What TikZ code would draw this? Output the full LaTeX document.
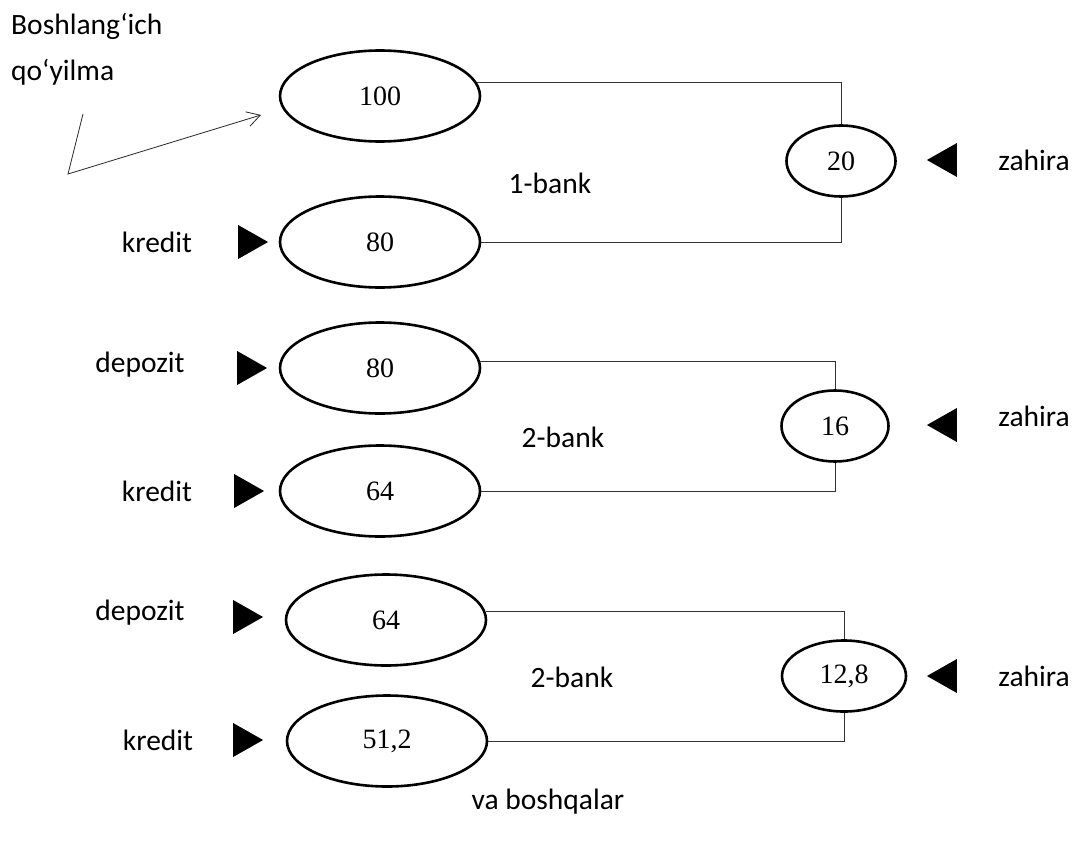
\documentclass[tikz,border=0pt]{standalone}
\usepackage{fontspec}
\setmainfont{Carlito}
\newfontfamily\numfont{Liberation Serif}
\usetikzlibrary{shapes.geometric, arrows.meta, positioning}

\begin{document}
\begin{tikzpicture}[x=1pt, y=-1pt,
    bank/.style={draw, ellipse, line width=2.6pt, minimum width=200pt, minimum height=91pt, inner sep=0pt, font=\numfont\fontsize{28}{30}\selectfont},
    rez/.style={draw, ellipse, line width=2.6pt, minimum height=71pt, inner sep=0pt, font=\numfont\fontsize{28}{30}\selectfont},
    pin/.style={isosceles triangle, isosceles triangle stretches, fill=black, inner sep=0pt, minimum width=34pt, minimum height=30pt},
    pinl/.style={pin, shape border rotate=180},
    lbl/.style={font=\fontsize{29.5}{34}\selectfont},
    link/.style={line width=0.9pt, black!80}]
  \useasboundingbox (0,0) rectangle (1073,843);

  % 1-bank
  \node (a1) [bank] at (380,96) {100};
  \node (b1) [bank] at (380,242) {80};
  \node (r1) [rez, minimum width=109pt] at (841,161) {20};
  \node (t1) [pin] at (248,242) {};
  \node (z1) [pinl] at (947,160) {};
  \node (k1) [lbl] at (157,242) {kredit};
  \node (h1) [lbl] at (1034,160) {zahira};
  \node (n1) [lbl] at (550,183) {1-bank};

  % 2-bank
  \node (a2) [bank] at (380,368) {80};
  \node (b2) [bank] at (380,491) {64};
  \node (r2) [rez, minimum width=107pt] at (835,426) {16};
  \node (s2) [pin] at (247,368) {};
  \node (t2) [pin] at (244,491) {};
  \node (z2) [pinl] at (947,425) {};
  \node (d2) [lbl] at (140,365) {depozit};
  \node (k2) [lbl] at (157,491) {kredit};
  \node (h2) [lbl] at (1034,416) {zahira};
  \node (n2) [lbl] at (563,437) {2-bank};

  % 3-bank
  \node (a3) [bank] at (386,620) {64};
  \node (b3) [bank] at (387,741) {51,2};
  \node (r3) [rez, minimum width=124pt] at (844,676) {12,8};
  \node (s3) [pin] at (243,617) {};
  \node (t3) [pin] at (243,740) {};
  \node (z3) [pinl] at (947,676) {};
  \node (d3) [lbl] at (140,613) {depozit};
  \node (k3) [lbl] at (158,740) {kredit};
  \node (h3) [lbl] at (1034,676) {zahira};
  \node (n3) [lbl] at (572,677) {2-bank};

  \node (va) [lbl] at (548,802) {va boshqalar};
  \node (start) [lbl, align=left, anchor=north west, inner sep=0pt, font=\fontsize{29.5}{46}\selectfont] at (11,13) {Boshlang‘ich\\qo‘yilma};

  \coordinate (p0) at (83,114);
  \coordinate (p1) at (68,174);
  \coordinate (p2) at (261,115);

  \draw[-{Straight Barb[length=13pt, width=15pt]}, line width=0.8pt, black!85] (p0) -- (p1) -- (p2);

  \draw[link] (a1.8) -| (r1.north);
  \draw[link] (r1.south) |- (b1.east);
  \draw[link] (a2.4) -| (r2.north);
  \draw[link] (r2.south) |- (b2.east);
  \draw[link] (a3.5) -| (r3.north);
  \draw[link] (r3.south) |- (b3.east);
\end{tikzpicture}
\end{document}
